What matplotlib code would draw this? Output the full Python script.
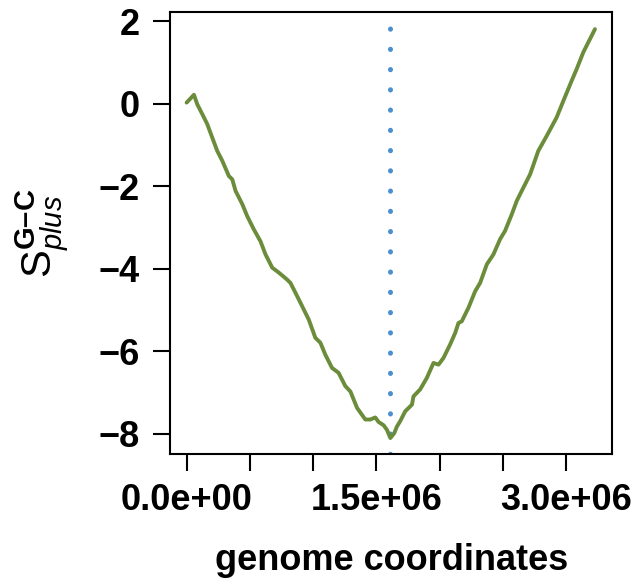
import matplotlib.pyplot as plt
import numpy as np

plt.rcParams['font.family'] = ['Liberation Sans', 'DejaVu Sans']
plt.rcParams['mathtext.fontset'] = 'custom'
plt.rcParams['mathtext.rm'] = 'Liberation Sans'
plt.rcParams['mathtext.bf'] = 'Liberation Sans:bold'
plt.rcParams['mathtext.it'] = 'Liberation Sans:italic'

# genome position (Mb) and cumulative G-C skew
pos_mb = [0.0, 0.058, 0.084, 0.124, 0.163, 0.203, 0.242, 0.282, 0.334, 0.361,
          0.387, 0.440, 0.479, 0.531, 0.584, 0.624, 0.677, 0.729, 0.795, 0.821,
          0.861, 0.913, 0.966, 1.018, 1.058, 1.097, 1.150, 1.202, 1.255, 1.295,
          1.348, 1.413, 1.453, 1.492, 1.518, 1.558, 1.584, 1.611, 1.642, 1.663,
          1.689, 1.729, 1.782, 1.794, 1.847, 1.900, 1.952, 1.992, 2.031, 2.084,
          2.124, 2.150, 2.176, 2.229, 2.282, 2.321, 2.374, 2.426, 2.479, 2.518,
          2.571, 2.611, 2.650, 2.716, 2.781, 2.847, 2.926, 2.979, 3.045, 3.084,
          3.137, 3.229]
skew = [0.03, 0.22, -0.01, -0.25, -0.49, -0.82, -1.14, -1.38, -1.75, -1.83,
        -2.11, -2.43, -2.72, -3.04, -3.33, -3.65, -3.97, -4.09, -4.26, -4.34,
        -4.58, -4.90, -5.23, -5.67, -5.79, -6.08, -6.40, -6.52, -6.84, -6.97,
        -7.37, -7.65, -7.65, -7.60, -7.71, -7.79, -7.90, -8.10, -7.98, -7.82,
        -7.69, -7.45, -7.29, -7.09, -6.92, -6.64, -6.28, -6.32, -6.16, -5.83,
        -5.55, -5.31, -5.27, -4.94, -4.54, -4.34, -3.89, -3.65, -3.28, -3.08,
        -2.68, -2.35, -2.11, -1.71, -1.14, -0.78, -0.33, 0.07, 0.56, 0.84,
        1.25, 1.81]
pos = np.array(pos_mb) * 1e6
origin = 1.611e6

fig = plt.figure(figsize=(6.35, 5.83), dpi=100)
ax = fig.add_axes([0.268, 0.221, 0.696, 0.758])

ax.plot(pos, skew, color='#6b8c3a', lw=2.8, solid_capstyle='round', zorder=3)
ax.axvline(origin, color='#4a90d0', lw=3.6, ls=(0, (0.05, 4.0)), dash_capstyle='round', zorder=2)

ax.set_xlim(-0.13e6, 3.365e6)
ax.set_ylim(-8.49, 2.22)
ax.set_xticks(np.arange(0, 3.01e6, 0.5e6))
ax.set_xticklabels(['0.0e+00', '', '', '1.5e+06', '', '', '3.0e+06'])
ax.set_yticks([2, 0, -2, -4, -6, -8])
ax.set_yticklabels(['2', '0', '\u22122', '\u22124', '\u22126', '\u22128'])
ax.tick_params(length=12, width=1.5, labelsize=26)
ax.tick_params(axis='y', pad=10)
ax.tick_params(axis='x', pad=9)
for lab in ax.get_xticklabels() + ax.get_yticklabels():
    lab.set_fontweight('bold')
for s in ax.spines.values():
    s.set_linewidth(1.5)

ax.set_xlabel('genome coordinates', fontsize=26, fontweight='bold', labelpad=18)
ax.set_ylabel('$\\mathrm{S}^{\\mathbf{G\u2013C}}_{\\mathit{plus}}$', fontsize=30, labelpad=20)

fig.savefig('out.png', dpi=100)
